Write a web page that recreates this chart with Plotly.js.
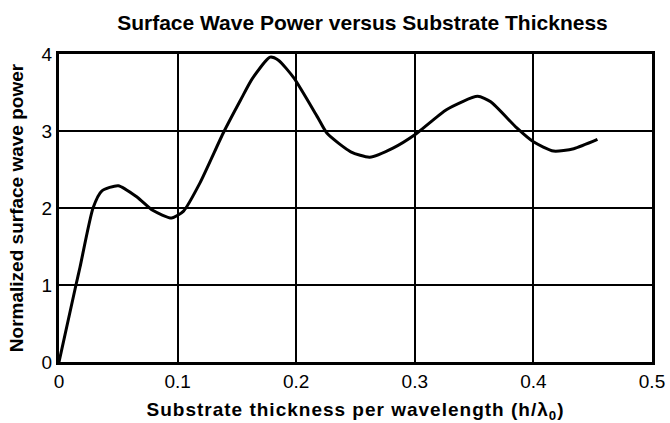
<!DOCTYPE html>
<html>
<head>
<meta charset="utf-8">
<script src="https://cdn.plot.ly/plotly-3.0.1.min.js"></script>
<style>
html,body{margin:0;padding:0;background:#fff;}
#chart{width:670px;height:423px;}
#chart .xtitle{letter-spacing:1px;}
</style>
</head>
<body>
<div id="chart"></div>
<script>
const thickness = [0, 0.0143, 0.0177, 0.0287, 0.036, 0.050, 0.066, 0.079, 0.095, 0.105, 0.119, 0.139, 0.153, 0.163, 0.178, 0.185, 0.198, 0.218, 0.226, 0.246, 0.262, 0.282, 0.300, 0.327, 0.353, 0.364, 0.386, 0.400, 0.417, 0.434, 0.454];
const power     = [0, 1.0, 1.23, 2.0, 2.22, 2.29, 2.14, 1.97, 1.87, 1.96, 2.33, 2.99, 3.40, 3.68, 3.96, 3.92, 3.69, 3.18, 2.97, 2.73, 2.66, 2.78, 2.95, 3.28, 3.45, 3.38, 3.04, 2.86, 2.74, 2.77, 2.89];
const xTicks = [0, 0.1, 0.2, 0.3, 0.4, 0.5];
const xTickText = ['0', '0.1', '0.2', '0.3', '0.4', '0.5'];
const yTicks = [0, 1, 2, 3, 4];

const trace = {
  x: thickness, y: power, type: 'scatter', mode: 'lines',
  line: {color: '#000', width: 3, shape: 'spline', smoothing: 0.6},
  hoverinfo: 'skip'
};
const layout = {
  width: 670, height: 423,
  margin: {l: 59, r: 18, t: 54, b: 61},
  paper_bgcolor: '#fff', plot_bgcolor: '#fff',
  showlegend: false,
  font: {family: 'Liberation Sans, Arial, sans-serif', color: '#000'},
  title: {text: '<b>Surface Wave Power versus Substrate Thickness</b>', x: 0.541, xanchor: 'center', y: 0.965, font: {size: 21, color: '#000'}},
  xaxis: {
    range: [0, 0.5], tickvals: xTicks, ticktext: xTickText,
    showgrid: true, gridcolor: '#000', gridwidth: 2,
    showline: true, linecolor: '#000', linewidth: 3, mirror: true,
    ticks: '', zeroline: false, tickfont: {size: 19},
    title: {text: '<b>Substrate thickness per wavelength (h/λ<sub>0</sub>)</b>', font: {size: 19}, standoff: 12}
  },
  yaxis: {
    range: [0, 4], tickvals: yTicks,
    showgrid: true, gridcolor: '#000', gridwidth: 2,
    showline: true, linecolor: '#000', linewidth: 3, mirror: true,
    ticks: '', zeroline: false, tickfont: {size: 19},
    title: {text: '<b>Normalized surface wave power</b>', font: {size: 19}, standoff: 13}
  }
};
Plotly.newPlot('chart', [trace], layout, {displayModeBar: false, staticPlot: true});
</script>
</body>
</html>
